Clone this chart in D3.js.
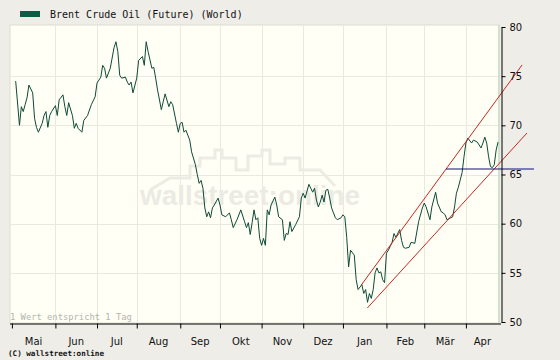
<!DOCTYPE html>
<html><head><meta charset="utf-8">
<script src="https://cdn.jsdelivr.net/npm/d3@7"></script>
<style>html,body{margin:0;padding:0;background:#efede8;} svg{display:block}</style>
</head><body><svg id="c" width="560" height="360"></svg>
<script>
// ---------- data ----------
const seriesName = "Brent Crude Oil (Future) (World)";
const monthLabels = ["Mai","Jun","Jul","Aug","Sep","Okt","Nov","Dez","Jan","Feb","Mär","Apr"];
const monthStarts = ["2006-05-01","2006-06-01","2006-07-01","2006-08-01","2006-09-01","2006-10-01",
                     "2006-11-01","2006-12-01","2007-01-01","2007-02-01","2007-03-01","2007-04-01","2007-05-01"];
const yTicks = [50,55,60,65,70,75,80];
// trading day number since 2006-05-01 (1 Wert = 1 Tag)
const dayIndex = [2,4,5,6,7,8,9,11,12,13,14,16,17,18,19,20,21,23,24,25,27,28,29,30,32,33,34,35,37,38,40,42,44,45,47,48,49,50,52,54,55,56,57,58,60,61,62,63,64,66,67,69,70,71,72,74,75,76,77,79,80,81,83,84,85,87,88,89,90,91,92,94,95,97,98,99,100,101,102,103,104,105,106,107,109,110,111,113,115,116,117,119,121,123,124,125,126,127,128,129,130,131,132,133,134,135,136,137,139,140,141,143,144,145,146,147,148,150,152,153,154,155,157,158,159,160,161,162,163,164,165,166,167,168,169,171,172,174,175,176,177,178,179,181,182,183,185,186,187,188,189,190,191,192,193,194,195,196,197,198,199,201,202,203,205,206,207,208,210,211,213,215,217,218,219,221,222,224,225,227,228,229,230,232,233,234,235,236,238,239,240,241,243,244,246,248,249,250,251,252,253,254,255,256,257];
const price = [74.5,70.0,71.9,71.4,72.1,72.8,74.1,73.3,70.7,69.8,69.3,70.2,71.0,71.4,69.8,71.0,71.4,72.0,71.0,72.6,73.1,71.9,71.0,72.3,71.0,69.7,70.2,69.7,69.3,70.5,71.0,72.1,72.9,74.3,74.9,76.1,75.8,74.8,75.8,77.9,78.5,77.5,75.1,74.8,74.9,74.4,74.1,74.4,73.3,74.8,76.6,77.0,76.1,78.5,77.5,75.8,75.9,74.8,73.6,71.6,72.4,73.2,71.9,72.4,72.1,70.2,69.3,70.2,70.3,69.3,69.5,68.5,67.3,66.0,65.0,64.1,64.4,63.6,61.6,60.7,61.2,60.6,61.6,61.9,62.6,61.9,60.9,60.7,61.1,60.4,59.6,60.4,61.4,60.2,59.6,60.1,58.9,60.1,61.4,60.4,60.6,58.5,57.8,58.5,57.8,61.4,60.9,61.9,62.7,61.9,60.7,60.4,58.3,59.0,58.9,60.2,59.2,59.9,60.7,62.6,63.1,62.6,64.0,63.6,63.2,63.6,62.4,61.7,62.2,62.9,62.2,63.4,63.5,62.6,61.6,60.6,60.4,60.6,60.9,60.7,58.6,55.6,57.3,56.8,54.3,53.3,53.8,52.9,53.3,52.0,52.9,52.4,53.3,55.0,55.5,55.0,55.1,54.3,54.0,57.0,57.3,58.1,59.0,58.6,59.4,58.3,57.6,57.5,57.6,58.1,58.0,60.2,61.6,62.1,61.7,60.4,61.7,63.2,62.1,61.2,61.1,60.9,60.4,60.6,60.7,61.7,63.1,63.7,65.2,66.8,68.2,68.7,68.2,68.5,68.3,67.7,68.2,68.8,68.2,66.8,65.8,65.7,66.0,67.5,68.3];
// trend channel and level line (day index, value)
const upperDays = [184.7, 269.7], upperValues = [53.76, 76.14];
const lowerDays = [187.9, 272.3], lowerValues = [51.42, 69.22];
const levelDays = [229.5, 276.0], levelValue = 65.56;
const noteText = "1 Wert entspricht 1 Tag";
const copyText = "(C) wallstreet:online";
const watermark = "wallstreet:online";

// ---------- layout ----------
const W = 560, H = 360;
const L = 10, R = 499, T = 25, B = 323;
const svg = d3.select("#c");
const baseDate = new Date(2006, 4, 1);
const tradingIdx = d => d3.timeDay.range(baseDate, d).filter(x => x.getDay() % 6 !== 0).length;
const parse = d3.timeParse("%Y-%m-%d");
const monthIdx = monthStarts.map(s => tradingIdx(parse(s)));

const x = d3.scaleLinear().domain([-1, 257.5]).range([L, R]);
const y = d3.scaleLinear().domain([50, 80]).range([322, 27]);

svg.append("rect").attr("width", W).attr("height", H).attr("fill", "#efede8");
svg.append("rect").attr("x", L).attr("y", T).attr("width", R - L).attr("height", B - T)
  .attr("fill", "#fffff6").attr("stroke", "#dcdcd2").attr("stroke-width", 1);

// grid
const g = svg.append("g");
g.selectAll("line.v").data(monthIdx.slice(1, 12)).join("line")
  .attr("x1", d => Math.round(x(d)) + 0.5).attr("x2", d => Math.round(x(d)) + 0.5)
  .attr("y1", T).attr("y2", B).attr("stroke", "#e9e9de");
g.selectAll("line.h").data(yTicks.slice(1, 6)).join("line")
  .attr("x1", L).attr("x2", R)
  .attr("y1", d => Math.round(y(d)) + 0.5).attr("y2", d => Math.round(y(d)) + 0.5)
  .attr("stroke", "#e9e9de");

// watermark (logo skyline + text)
svg.append("path")
  .attr("d", "M150,190 L170,178 L190,178 L190,166 L200,166 L200,158 L215,158 L215,150 L222,150 L222,158 L236,158 L236,170 L248,170 L248,156 L262,156 L262,150 L270,150 L270,164 L285,164 L285,158 L300,158 L300,170 L320,170 L335,186")
  .attr("fill", "none").attr("stroke", "#ecece3").attr("stroke-width", 3);
svg.append("text").attr("x", 250).attr("y", 205).attr("text-anchor", "middle")
  .attr("font-family", "Liberation Sans, Arial, sans-serif").attr("font-weight", "bold")
  .attr("font-size", 28).attr("textLength", 220).attr("lengthAdjust", "spacingAndGlyphs")
  .attr("fill", "#ebebe3").text(watermark);

// green right strip
svg.append("line").attr("x1", R).attr("x2", R).attr("y1", T).attr("y2", B)
  .attr("stroke", "#cfe3cc").attr("stroke-width", 2);

// price line
const pts = dayIndex.map((d, i) => [d, price[i]]);
svg.append("path").datum(pts)
  .attr("d", d3.line().x(d => x(d[0])).y(d => y(d[1])))
  .attr("fill", "none").attr("stroke", "#0d4a36").attr("stroke-width", 1);

// channel
[[upperDays, upperValues], [lowerDays, lowerValues]].forEach(([ds, vs]) => {
  svg.append("line").attr("x1", x(ds[0])).attr("y1", y(vs[0]))
    .attr("x2", x(ds[1])).attr("y2", y(vs[1]))
    .attr("stroke", "#c8281e").attr("stroke-width", 1);
});
svg.append("line").attr("x1", x(levelDays[0])).attr("x2", x(levelDays[1]))
  .attr("y1", y(levelValue)).attr("y2", y(levelValue))
  .attr("stroke", "#101080").attr("stroke-width", 1.2);

// axes
const ya = svg.append("g").attr("transform", `translate(${R + 2.5},0)`)
  .call(d3.axisRight(y).tickValues(yTicks).tickSize(4).tickPadding(4).tickSizeOuter(0));
ya.selectAll("text").attr("font-family", "DejaVu Sans, sans-serif").attr("font-size", 10).attr("fill", "#111");
ya.selectAll("line,path").attr("stroke", "#000");

const xa = svg.append("g").attr("transform", `translate(0,${B + 0.5})`)
  .call(d3.axisBottom(x).tickValues(monthIdx.slice(0, 12)).tickSize(5).tickSizeOuter(0).tickFormat(""));
xa.select("path").attr("d", `M${L},0.5H${R + 2}`);
xa.selectAll("line,path").attr("stroke", "#000");

const labelPos = monthLabels.map((m, i) => (x(monthIdx[i]) + Math.min(x(monthIdx[i + 1]), R)) / 2);
svg.selectAll("text.m").data(monthLabels).join("text")
  .attr("x", (d, i) => labelPos[i]).attr("y", 345).attr("text-anchor", "middle")
  .attr("font-family", "DejaVu Sans, sans-serif").attr("font-size", 10).attr("fill", "#111").text(d => d);

// legend
svg.append("rect").attr("x", 20).attr("y", 11).attr("width", 20).attr("height", 6).attr("fill", "#0b5e45");
svg.append("text").attr("x", 50).attr("y", 18).attr("font-family", "DejaVu Sans Mono, monospace")
  .attr("font-size", 10).attr("fill", "#111").text(seriesName);

// notes
svg.append("text").attr("x", 10).attr("y", 320).attr("font-family", "DejaVu Sans Mono, monospace")
  .attr("font-size", 8.8).attr("fill", "#b4b4ac").text(noteText);
svg.append("text").attr("x", 8).attr("y", 356).attr("font-family", "DejaVu Sans Mono, monospace")
  .attr("font-size", 7.6).attr("font-weight", "bold").attr("fill", "#111").text(copyText);
</script></body></html>
